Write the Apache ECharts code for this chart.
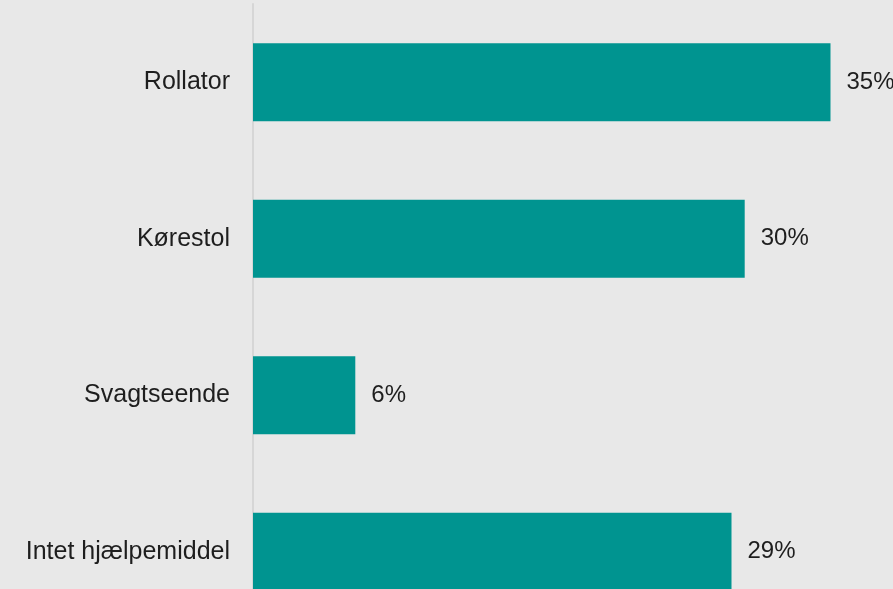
<!DOCTYPE html>
<html>
<head>
<meta charset="utf-8">
<script src="https://cdn.jsdelivr.net/npm/echarts@6/dist/echarts.min.js"></script>
<style>
html,body{margin:0;padding:0;background:#e8e8e8;}
#c{width:893px;height:589px;}
</style>
</head>
<body>
<div id="c"></div>
<script>
const categories = ["Rollator", "Kørestol", "Svagtseende", "Intet hjælpemiddel"];
const values = [35, 29.8, 6.2, 29];
const valueLabels = ["35%", "30%", "6%", "29%"];

const chart = echarts.init(document.getElementById('c'), null, {renderer: 'canvas'});
chart.setOption({
  backgroundColor: '#e8e8e8',
  animation: false,
  grid: {left: 253, top: 4, width: 660, height: 626, containLabel: false, outerBoundsMode: 'none'},
  xAxis: {
    type: 'value', min: 0, max: 40, show: false
  },
  yAxis: {
    type: 'category', data: categories, inverse: true,
    axisLine: {show: true, lineStyle: {color: '#d6d6d6', width: 2}},
    axisTick: {show: false},
    axisLabel: {color: '#1e1e1e', fontSize: 25, fontFamily: 'Liberation Sans', margin: 23, padding: [3, 0, 0, 0]}
  },
  series: [{
    type: 'bar',
    data: values,
    barWidth: 78,
    itemStyle: {color: '#009490'},
    label: {
      show: true, position: 'right', distance: 16,
      color: '#1e1e1e', fontSize: 24, fontFamily: 'Liberation Sans',
      padding: [4, 0, 0, 0],
      formatter: p => valueLabels[p.dataIndex]
    }
  }]
});
</script>
</body>
</html>
